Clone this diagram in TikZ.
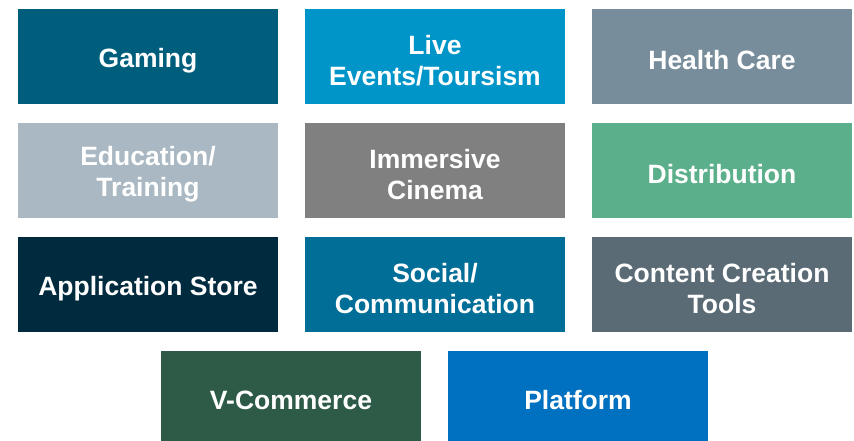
\documentclass[tikz,border=0pt]{standalone}
\usepackage{fontspec}
\setmainfont{Liberation Sans}
\usepackage{tikz}
\usetikzlibrary{positioning}
\definecolor{gamingblue}{HTML}{005E7D}
\definecolor{liveblue}{HTML}{0095C8}
\definecolor{healthgray}{HTML}{778D9B}
\definecolor{edugray}{HTML}{A9B8C2}
\definecolor{cinemagray}{HTML}{808080}
\definecolor{distgreen}{HTML}{5BAF8A}
\definecolor{storenavy}{HTML}{002A3E}
\definecolor{socialblue}{HTML}{006E96}
\definecolor{toolslate}{HTML}{5A6B76}
\definecolor{commercegreen}{HTML}{2D5B47}
\definecolor{platformblue}{HTML}{0070C0}

\begin{document}
\begin{tikzpicture}[
  x=1pt,y=-1pt,
  every node/.style={font=\fontsize{26.5}{31}\selectfont\bfseries},
  tile/.style={text=white,align=center,inner sep=0pt,
    minimum width=260pt,minimum height=95pt},
  lasttile/.style={tile,minimum height=90pt},
  caption/.style={text=white,align=center,inner sep=0pt,yshift=-4pt}
]
\useasboundingbox (0,0) rectangle (854,441);

% erste Reihe
\node[tile,fill=gamingblue,label={[caption]center:Gaming}] (gaming) at (148,56.5) {};
\node[tile,fill=liveblue,label={[caption]center:Live\\Events/Toursism}] (live) at (435,56.5) {};
\node[tile,fill=healthgray,label={[caption]center:Health Care}] (health) at (722,56.5) {};

% zweite Reihe
\node[tile,fill=edugray,label={[caption]center:Education/\\Training}] (education) at (148,170.5) {};
\node[tile,fill=cinemagray,label={[caption]center:Immersive\\Cinema}] (cinema) at (435,170.5) {};
\node[tile,fill=distgreen,label={[caption]center:Distribution}] (distribution) at (722,170.5) {};

% dritte Reihe
\node[tile,fill=storenavy,label={[caption]center:Application Store}] (appstore) at (148,284.5) {};
\node[tile,fill=socialblue,label={[caption]center:Social/\\Communication}] (social) at (435,284.5) {};
\node[tile,fill=toolslate,label={[caption]center:Content Creation\\Tools}] (tools) at (722,284.5) {};

% letzte Reihe, eingerueckt
\node[lasttile,fill=commercegreen,label={[caption]center:V-Commerce}] (vcommerce) at (291,396) {};
\node[lasttile,fill=platformblue,label={[caption]center:Platform}] (platform) at (578,396) {};
\end{tikzpicture}
\end{document}
